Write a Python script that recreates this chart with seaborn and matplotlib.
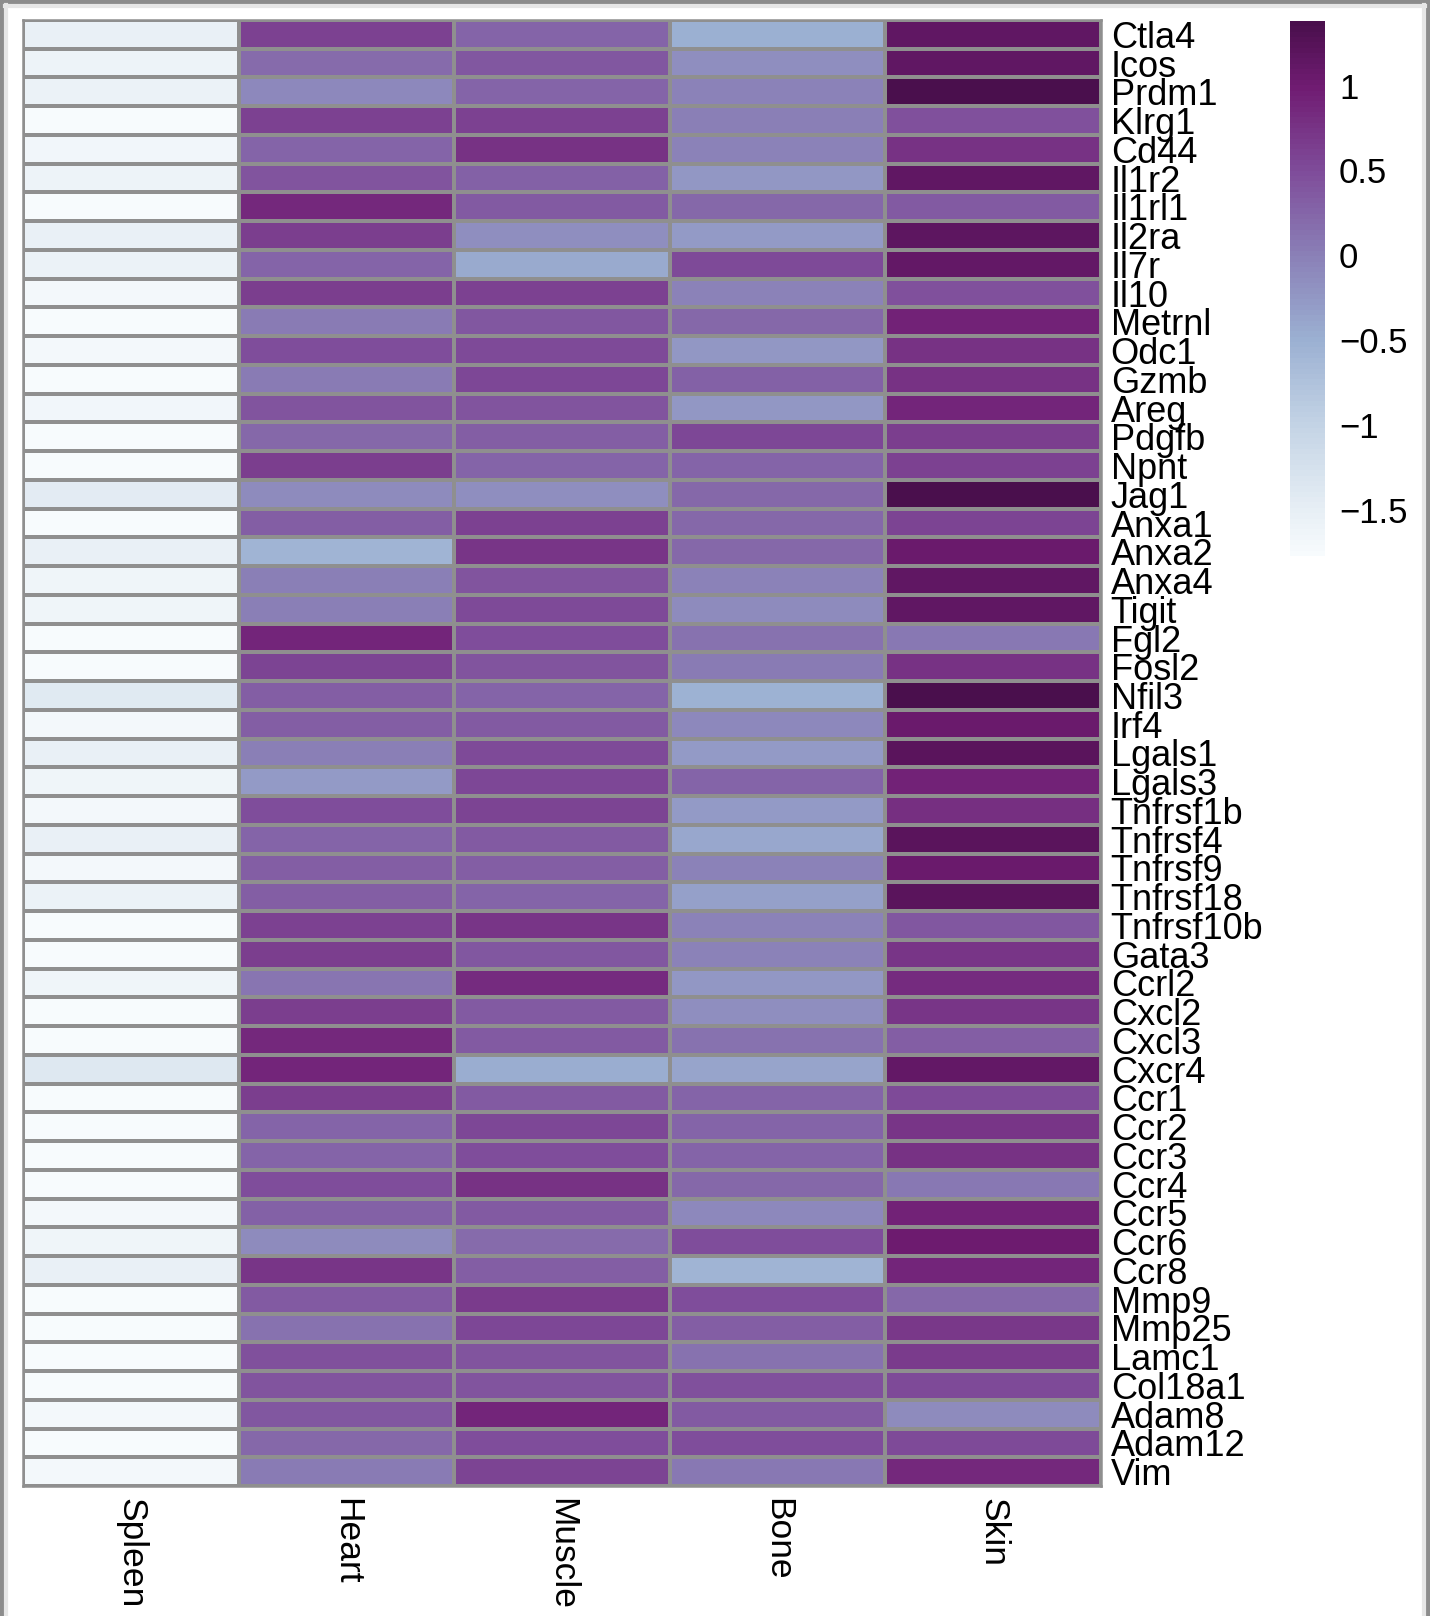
import numpy as np
import pandas as pd
import matplotlib
matplotlib.use('Agg')
import matplotlib.pyplot as plt
from matplotlib.lines import Line2D
from matplotlib.colors import LinearSegmentedColormap
import seaborn as sns

# --- 데이터 ---
tissues = ['Spleen', 'Heart', 'Muscle', 'Bone', 'Skin']

genes = ['Ctla4', 'Icos', 'Prdm1', 'Klrg1', 'Cd44', 'Il1r2', 'Il1rl1', 'Il2ra', 'Il7r', 'Il10',
         'Metrnl', 'Odc1', 'Gzmb', 'Areg', 'Pdgfb', 'Npnt', 'Jag1', 'Anxa1', 'Anxa2', 'Anxa4',
         'Tigit', 'Fgl2', 'Fosl2', 'Nfil3', 'Irf4', 'Lgals1', 'Lgals3', 'Tnfrsf1b', 'Tnfrsf4', 'Tnfrsf9',
         'Tnfrsf18', 'Tnfrsf10b', 'Gata3', 'Ccrl2', 'Cxcl2', 'Cxcl3', 'Cxcr4', 'Ccr1', 'Ccr2', 'Ccr3',
         'Ccr4', 'Ccr5', 'Ccr6', 'Ccr8', 'Mmp9', 'Mmp25', 'Lamc1', 'Col18a1', 'Adam8', 'Adam12', 'Vim']

spleen = [-1.52, -1.60, -1.55, -1.74, -1.67, -1.60, -1.74, -1.52, -1.57, -1.70,
          -1.74, -1.70, -1.74, -1.65, -1.77, -1.77, -1.45, -1.77, -1.52, -1.62,
          -1.62, -1.74, -1.77, -1.42, -1.70, -1.52, -1.62, -1.68, -1.52, -1.70,
          -1.56, -1.74, -1.77, -1.63, -1.77, -1.74, -1.38, -1.77, -1.74, -1.74,
          -1.74, -1.68, -1.63, -1.53, -1.77, -1.74, -1.74, -1.77, -1.68, -1.77, -1.68]

heart = [0.60, 0.20, -0.10, 0.60, 0.25, 0.42, 0.85, 0.65, 0.27, 0.65,
         0.05, 0.48, 0.05, 0.43, 0.22, 0.63, -0.12, 0.32, -0.55, 0.02,
         0.00, 0.90, 0.57, 0.33, 0.33, 0.00, -0.27, 0.47, 0.27, 0.32,
         0.32, 0.62, 0.64, 0.10, 0.65, 0.85, 0.88, 0.64, 0.25, 0.25,
         0.48, 0.30, -0.12, 0.73, 0.36, 0.12, 0.44, 0.43, 0.40, 0.22, 0.03]

muscle = [0.27, 0.40, 0.27, 0.60, 0.75, 0.28, 0.35, -0.15, -0.42, 0.60,
          0.40, 0.50, 0.55, 0.42, 0.33, 0.25, -0.15, 0.62, 0.73, 0.43,
          0.50, 0.48, 0.42, 0.25, 0.36, 0.50, 0.56, 0.58, 0.37, 0.32,
          0.27, 0.72, 0.38, 0.82, 0.37, 0.35, -0.47, 0.37, 0.55, 0.48,
          0.75, 0.37, 0.20, 0.33, 0.66, 0.56, 0.42, 0.42, 0.90, 0.47, 0.58]

bone = [-0.50, -0.15, -0.02, 0.00, -0.03, -0.25, 0.22, -0.27, 0.50, -0.02,
        0.22, -0.25, 0.28, -0.25, 0.56, 0.26, 0.24, 0.24, 0.24, -0.02,
        -0.13, 0.15, 0.05, -0.52, -0.08, -0.28, 0.25, -0.28, -0.40, -0.02,
        -0.35, -0.02, -0.02, -0.25, -0.15, 0.15, -0.38, 0.26, 0.26, 0.26,
        0.22, -0.08, 0.47, -0.55, 0.48, 0.32, 0.15, 0.44, 0.37, 0.47, 0.08]

skin = [1.15, 1.15, 1.35, 0.45, 0.78, 1.15, 0.37, 1.17, 1.12, 0.45,
        0.92, 0.78, 0.78, 0.90, 0.65, 0.60, 1.38, 0.57, 1.05, 1.15,
        1.15, 0.08, 0.75, 1.35, 1.05, 1.22, 0.92, 0.80, 1.22, 1.05,
        1.20, 0.40, 0.74, 0.82, 0.74, 0.33, 1.10, 0.52, 0.72, 0.77,
        0.08, 0.92, 1.02, 0.90, 0.22, 0.70, 0.68, 0.50, -0.12, 0.50, 0.87]

cbar_ticks = [-1.5, -1, -0.5, 0, 0.5, 1]

# 색상 범위 (컬러바 끝값)
VMIN, VMAX = -1.77, 1.38
# BuPu 계열 팔레트 (값, 색)
ramp_values = [-1.77, -1.5, -1.0, -0.5, 0.0, 0.5, 1.0, 1.38]
ramp_colors = ['#f7fbfd', '#e6eef5', '#c3d3e5', '#9bb0d2', '#8a80b7', '#7f4c9a', '#701c72', '#4a0f4d']

# --- 폰트 ---
plt.rcParams['font.family'] = ['Liberation Sans', 'DejaVu Sans']

df = pd.DataFrame({'Spleen': spleen, 'Heart': heart, 'Muscle': muscle,
                   'Bone': bone, 'Skin': skin}, index=genes)[tissues]

stops = [(v - VMIN) / (VMAX - VMIN) for v in ramp_values]
cmap = LinearSegmentedColormap.from_list('bupu_r', list(zip(stops, ramp_colors)), N=100)

W, H = 1430, 1616
fig = plt.figure(figsize=(W / 100, H / 100), dpi=100)

ax = fig.add_axes([23 / W, 1 - 1486 / H, (1101 - 23) / W, (1486 - 20) / H])
cax = fig.add_axes([1290 / W, 1 - 556 / H, 35 / W, (556 - 21) / H])

sns.heatmap(df, ax=ax, cbar_ax=cax, cmap=cmap, vmin=VMIN, vmax=VMAX,
            linewidths=1.5, linecolor='#8f8f8f',
            cbar_kws={'ticks': cbar_ticks})

# 행 라벨은 오른쪽에
ax.yaxis.tick_right()
ax.set_yticks(np.arange(len(genes)) + 0.5)
ax.set_yticklabels(genes, rotation=0, fontsize=26, va='center_baseline')
ax.set_xticks(np.arange(len(tissues)) + 0.5)
ax.set_xticklabels(tissues, rotation=270, fontsize=25.5, va='top', ha='center')
ax.tick_params(axis='both', length=0)
ax.tick_params(axis='y', pad=7)
ax.tick_params(axis='x', pad=9)
ax.set_xlabel('')
ax.set_ylabel('')
for sp in ax.spines.values():
    sp.set_visible(True)
    sp.set_color('#8f8f8f')
    sp.set_linewidth(1.8)

# 컬러바
cbar = ax.collections[0].colorbar
cbar.outline.set_visible(False)
cax.tick_params(length=0, labelsize=25, pad=10)
cax.set_yticklabels(['\u22121.5', '\u22121', '\u22120.5', '0', '0.5', '1'])

# 스크린샷 테두리
fig.add_artist(Line2D([2 / W, 2 / W], [0, 1], color='#8c8c8c', lw=3, transform=fig.transFigure))
fig.add_artist(Line2D([0, 1], [1 - 2 / H, 1 - 2 / H], color='#8c8c8c', lw=3, transform=fig.transFigure))
fig.add_artist(Line2D([1 - 2 / W, 1 - 2 / W], [0, 1], color='#8c8c8c', lw=3, transform=fig.transFigure))
fig.add_artist(Line2D([6 / W, 6 / W], [0, 1 - 5 / H], color='#e6e6e6', lw=3, transform=fig.transFigure))
fig.add_artist(Line2D([5 / W, 1 - 5 / W], [1 - 6 / H, 1 - 6 / H], color='#e6e6e6', lw=3, transform=fig.transFigure))
fig.add_artist(Line2D([1 - 6 / W, 1 - 6 / W], [0, 1 - 5 / H], color='#e6e6e6', lw=3, transform=fig.transFigure))

fig.savefig('out.png', dpi=100)
